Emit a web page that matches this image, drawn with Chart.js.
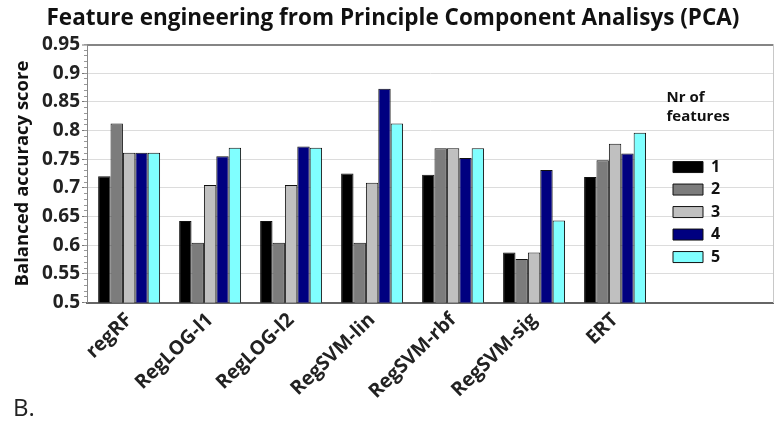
<!DOCTYPE html>
<html>
<head>
<meta charset="utf-8">
<script src="https://cdn.jsdelivr.net/npm/chart.js@4/dist/chart.umd.min.js"></script>
<style>
  html, body { margin: 0; padding: 0; background: #fff; }
  #wrap { width: 775px; height: 429px; }
</style>
</head>
<body>
<div id="wrap"><canvas id="c" width="775" height="429"></canvas></div>
<script>
// Balanced accuracy per classifier, one series per number of PCA features
const categories = ['regRF', 'RegLOG-l1', 'RegLOG-l2', 'RegSVM-lin', 'RegSVM-rbf', 'RegSVM-sig', 'ERT'];
const featureCounts = ['1', '2', '3', '4', '5'];
const scores1 = [0.720, 0.642, 0.642, 0.725, 0.723, 0.587, 0.719];
const scores2 = [0.812, 0.604, 0.604, 0.604, 0.769, 0.576, 0.748];
const scores3 = [0.761, 0.705, 0.705, 0.709, 0.769, 0.587, 0.777];
const scores4 = [0.761, 0.755, 0.772, 0.873, 0.752, 0.731, 0.760];
const scores5 = [0.761, 0.770, 0.770, 0.812, 0.769, 0.643, 0.796];
const yTickLabels = ['0.5', '0.55', '0.6', '0.65', '0.7', '0.75', '0.8', '0.85', '0.9', '0.95'];

const seriesValues = [scores1, scores2, scores3, scores4, scores5];
const seriesColors = ['#000000', '#7c7c7c', '#c0c0c0', '#000080', '#80ffff'];
const FONT = "'Open Sans', 'DejaVu Sans', sans-serif";

const datasets = featureCounts.map((label, k) => ({
  label,
  data: seriesValues[k].map((v, i) => ({ x: i, y: v })),
  backgroundColor: seriesColors[k],
  borderColor: '#111111',
  borderWidth: 1,
  xAxisID: 'x',
  yAxisID: 'y',
  categoryPercentage: 0.765,
  barPercentage: 1.0
}));

// Move the legend into the empty right part of the plot area
const legendPlacement = {
  id: 'legendPlacement',
  afterLayout(chart) {
    const lg = chart.legend;
    if (!lg) return;
    const w = lg.width, h = lg.height;
    lg.left = 666.5;
    lg.top = 90.5;
    lg.right = lg.left + w;
    lg.bottom = lg.top + h;
  }
};

new Chart(document.getElementById('c'), {
  type: 'bar',
  data: { datasets },
  plugins: [legendPlacement],
  options: {
    responsive: false,
    animation: false,
    devicePixelRatio: 1,
    layout: { padding: { left: 13, right: 2, top: 0, bottom: 0 } },
    plugins: {
      tooltip: { enabled: false },
      title: {
        display: true,
        text: 'Feature engineering from Principle Component Analisys (PCA)',
        color: '#111',
        font: { family: FONT, size: 22.5, weight: 'bold', lineHeight: 1.2 },
        padding: { top: 5, bottom: 12.5 }
      },
      subtitle: {
        display: true,
        position: 'bottom',
        align: 'start',
        text: 'B.',
        color: '#222',
        font: { family: FONT, size: 24, weight: 'normal', lineHeight: 1.2 },
        // a thin strip under the axis; the letter rises into the free corner beside the labels
        padding: { top: -26, bottom: 5.2 }
      },
      legend: {
        position: 'chartArea',
        align: 'start',
        title: {
          display: true,
          text: ['Nr of', 'features'],
          position: 'start',
          color: '#111',
          font: { family: FONT, size: 15, weight: 'bold', lineHeight: 1.27 },
          padding: { top: 0, bottom: 43 }
        },
        labels: {
          boxWidth: 30,
          boxHeight: 11,
          padding: 6.5,
          color: '#111',
          font: { family: FONT, size: 16, weight: 'bold' }
        }
      }
    },
    scales: {
      x: {
        type: 'linear',
        position: 'bottom',
        min: -0.52,
        max: 7.95,
        offset: false,
        grid: { display: false, drawTicks: false },
        border: { display: true, color: '#666', width: 2 },
        ticks: {
          stepSize: 1,
          autoSkip: false,
          minRotation: 44,
          maxRotation: 44,
          padding: 6,
          color: '#222',
          font: { family: FONT, size: 19.5, weight: 'bold' },
          callback: (v) => categories[v] ?? ''
        },
        afterBuildTicks: (s) => {
          s.ticks = s.ticks.filter(t => Number.isInteger(t.value) && t.value >= 0 && t.value < categories.length);
        },
        afterFit: (s) => { s.height = 118.5; }
      },
      y: {
        type: 'linear',
        position: 'left',
        weight: 1,
        min: 0.5,
        max: 0.95,
        ticks: {
          stepSize: 0.05,
          padding: 2,
          color: '#222',
          font: { family: FONT, size: 19, weight: 'bold' },
          callback: (v, i) => yTickLabels[i]
        },
        grid: {
          color: (c) => (c.tick && c.tick.value > 0.94) ? '#858585' : '#dcdcdc',
          lineWidth: (c) => (c.tick && c.tick.value > 0.94) ? 2 : 1,
          tickLength: 5,
          tickColor: '#777',
          tickWidth: 1
        },
        border: { display: true, color: '#888', width: 1 },
        title: {
          display: true,
          text: 'Balanced accuracy score',
          color: '#111',
          font: { family: FONT, size: 18.5, weight: 'bold', lineHeight: 1 },
          padding: { top: 0, bottom: 0 }
        },
        afterFit: (s) => { s.width = 74; }
      },
      yMinor: {
        type: 'linear',
        axis: 'y',
        position: 'left',
        weight: 0,
        min: 0.5,
        max: 0.95,
        ticks: { display: false, stepSize: 0.01 },
        grid: { drawOnChartArea: false, tickLength: 3, tickColor: '#999' },
        border: { display: false },
        afterFit: (s) => { s.width = 0; }
      },
      yRight: {
        type: 'linear',
        axis: 'y',
        position: 'right',
        min: 0.5,
        max: 0.95,
        ticks: { display: false },
        grid: { display: false, drawTicks: false },
        border: { display: true, color: '#c8c8c8', width: 1 },
        afterFit: (s) => { s.width = 0; }
      }
    }
  }
});
</script>
</body>
</html>
